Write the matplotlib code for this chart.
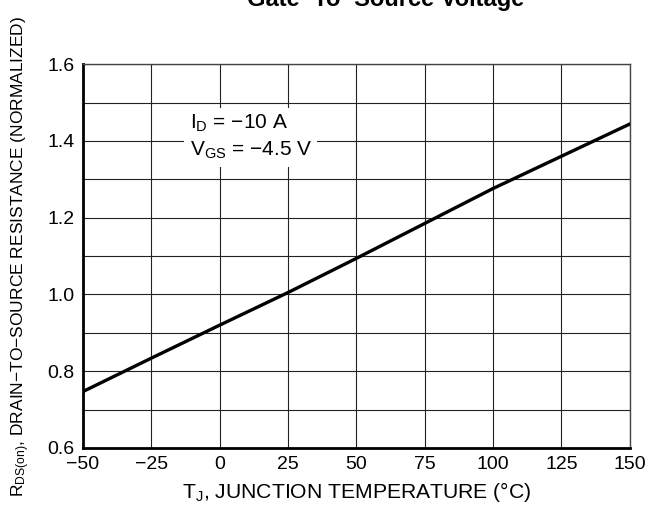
import matplotlib
matplotlib.use("Agg")
import matplotlib.pyplot as plt

plt.rcParams['font.family'] = ['Liberation Sans', 'DejaVu Sans']
plt.rcParams['mathtext.default'] = 'regular'

# valores
temperatura = [-50, -25, 0, 25, 50, 75, 100, 125, 150]
rds_norm = [0.747, 0.834, 0.920, 1.005, 1.094, 1.185, 1.276, 1.360, 1.444]

x_ticks = [-50, -25, 0, 25, 50, 75, 100, 125, 150]
x_labels = ['\u221250', '\u221225', '0', '25', '50', '75', '100', '125', '150']
y_ticks = [0.6, 0.8, 1.0, 1.2, 1.4, 1.6]
y_grid = [0.6, 0.7, 0.8, 0.9, 1.0, 1.1, 1.2, 1.3, 1.4, 1.5, 1.6]

fig = plt.figure(figsize=(6.54, 5.09), dpi=100)
ax = fig.add_axes([0.127, 0.12, 0.836, 0.754])

ax.plot(temperatura, rds_norm, color='black', linewidth=2.4, zorder=3)

ax.set_xlim(-50, 150)
ax.set_ylim(0.6, 1.6)
ax.set_xticks(x_ticks)
ax.set_xticklabels(x_labels)
ax.set_yticks(y_grid, minor=True)
ax.set_yticks(y_ticks)
ax.set_yticklabels(['%.1f' % v for v in y_ticks])
ax.tick_params(axis='both', which='both', length=0, labelsize=14)
ax.tick_params(axis='x', pad=6)
ax.tick_params(axis='y', pad=6)

ax.grid(True, which='both', color='#222222', linewidth=0.8, zorder=1)
ax.set_axisbelow(True)

for s in ['left', 'bottom']:
    ax.spines[s].set_linewidth(2.0)
for s in ['top', 'right']:
    ax.spines[s].set_linewidth(1.0)
    ax.spines[s].set_color('#444444')

ax.set_xlabel('T$_J$, JUNCTION TEMPERATURE (\u00b0C)', fontsize=15.2, labelpad=5)
ax.set_ylabel('R$_{DS(on)}$, DRAIN\u2212TO\u2212SOURCE RESISTANCE (NORMALIZED)', fontsize=12.5, labelpad=11)

ax.text(-11, 1.41, 'I$_D$ = \u221210 A\nV$_{GS}$ = \u22124.5 V', fontsize=15, ha='left', va='center',
        linespacing=1.38, zorder=2,
        bbox=dict(boxstyle='square,pad=0.25', facecolor='white', edgecolor='none'))

fig.text(386 / 654, 1 - 6 / 509, 'Gate\u2212To\u2212Source Voltage', fontsize=17, fontweight='bold',
         ha='center', va='baseline')

plt.savefig('out.png', dpi=100)
